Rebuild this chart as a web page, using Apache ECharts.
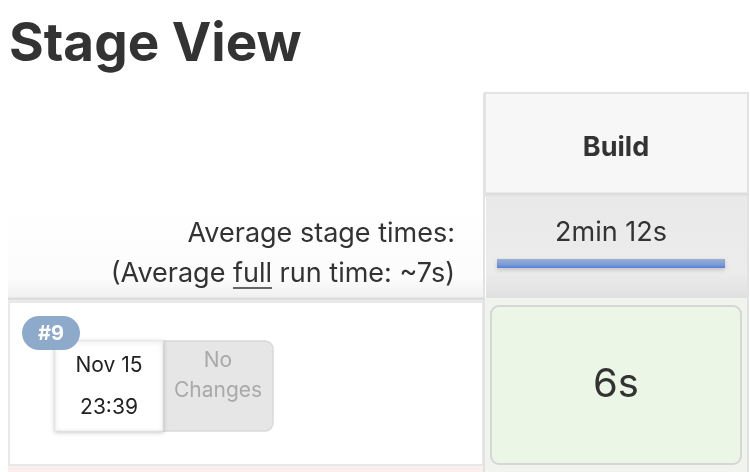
<!DOCTYPE html>
<html>
<head>
<meta charset="utf-8">
<title>Stage View</title>
<script src="https://cdn.jsdelivr.net/npm/echarts@6/dist/echarts.min.js"></script>
<style>
  html, body { margin: 0; padding: 0; background: #fff; }
  #chart { width: 750px; height: 472px; }
</style>
</head>
<body>
<div id="chart"></div>
<script>
// stage view data
const stages = ['Build']
const avgStageSec = [132]          // 2min 12s
const avgFullRun = '~7s'
const builds = ['#9']
const buildDates = ['Nov 15']
const buildTimes = ['23:39']
const buildChanges = [['No', 'Changes']]
const stageDurations = [[6]]       // seconds, one row per build

const FONT = 'Inter, "Noto Sans", "Liberation Sans", sans-serif'

function fmtDuration(s){
    const m = Math.floor(s / 60)
    const r = s % 60
    return m > 0 ? m + 'min ' + r + 's' : r + 's'
}

const cellData = []
builds.forEach((b, bi) => {
    stages.forEach((st, si) => {
        cellData.push([si, bi, stageDurations[bi][si]])
    })
})

const chart = echarts.init(document.getElementById('chart'))

const option = {
    animation: false,
    backgroundColor: '#ffffff',
    grid: [
        { left: 490, top: 305, width: 252, height: 160 },   // stage cells
        { left: 497, top: 259, width: 228, height: 9 }      // average bar
    ],
    xAxis: [
        {
            gridIndex: 0, type: 'category', data: stages, position: 'top',
            axisLine: { show: false }, axisTick: { show: false },
            axisLabel: { margin: 144, fontFamily: FONT, fontSize: 27, fontWeight: 'bold', color: '#333' }
        },
        {
            gridIndex: 1, type: 'value', min: 0, max: Math.max(...avgStageSec),
            show: false
        }
    ],
    yAxis: [
        { gridIndex: 0, type: 'category', data: builds, inverse: true, show: false },
        { gridIndex: 1, type: 'category', data: stages, show: false }
    ],
    series: [
        {
            type: 'custom',
            xAxisIndex: 0, yAxisIndex: 0,
            data: cellData,
            renderItem: (params, api) => {
                const c = api.coord([api.value(0), api.value(1)])
                const sz = api.size([1, 1])
                return {
                    type: 'group',
                    children: [
                        {
                            type: 'rect',
                            shape: { x: c[0] - sz[0] / 2 + 1, y: c[1] - sz[1] / 2 + 1, width: sz[0] - 2, height: sz[1] - 2, r: 8 },
                            style: { fill: '#ebf6e6', stroke: '#d4d7d4', lineWidth: 2 }
                        },
                        {
                            type: 'text',
                            style: {
                                text: fmtDuration(api.value(2)), x: c[0], y: c[1],
                                align: 'center', verticalAlign: 'middle',
                                font: '40px ' + FONT, fill: '#333'
                            }
                        }
                    ]
                }
            }
        },
        {
            type: 'bar',
            xAxisIndex: 1, yAxisIndex: 1,
            data: avgStageSec,
            barWidth: '100%',
            itemStyle: {
                color: new echarts.graphic.LinearGradient(0, 0, 0, 1, [
                    { offset: 0, color: '#98b0d2' },
                    { offset: 0.6, color: '#7d9bd6' },
                    { offset: 1, color: '#5580d8' }
                ]),
                shadowColor: 'rgba(0,0,0,0.18)', shadowBlur: 4, shadowOffsetY: 2
            },
            label: {
                show: true, position: 'top', distance: 13,
                formatter: p => fmtDuration(p.value),
                fontFamily: FONT, fontSize: 27, color: '#333'
            }
        }
    ],
    graphic: [
        // title
        { type: 'text', left: 9, top: 19, z: 10,
          style: { text: 'Stage View', font: 'bold 53px ' + FONT, fill: '#333' } },

        // right column chrome
        { type: 'rect', z: -10, shape: { x: 485, y: 93, width: 263, height: 103 },
          style: { fill: '#f7f7f7', stroke: '#e4e4e4', lineWidth: 2 } },
        { type: 'rect', z: -10, shape: { x: 486, y: 194, width: 261, height: 104 },
          style: { fill: new echarts.graphic.LinearGradient(0, 0, 0, 1, [
              { offset: 0, color: '#e9e9e9' }, { offset: 0.75, color: '#ececec' }, { offset: 1, color: '#e0e0e0' }
          ]) } },
        { type: 'line', z: -9, shape: { x1: 486, y1: 194, x2: 747, y2: 194 },
          style: { stroke: '#dddddd', lineWidth: 3 } },
        { type: 'rect', z: -10, shape: { x: 484, y: 298, width: 264, height: 174 },
          style: { fill: '#f1f3ef' } },
        { type: 'line', z: -9, shape: { x1: 484, y1: 93, x2: 484, y2: 472 },
          style: { stroke: '#e2e2e2', lineWidth: 2 } },
        { type: 'line', z: -9, shape: { x1: 748, y1: 93, x2: 748, y2: 472 },
          style: { stroke: '#e2e2e2', lineWidth: 2 } },

        // left average row
        { type: 'rect', z: -10, shape: { x: 8, y: 200, width: 476, height: 98 },
          style: { fill: new echarts.graphic.LinearGradient(0, 0, 0, 1, [
              { offset: 0, color: '#ffffff' }, { offset: 0.8, color: '#fcfcfc' }, { offset: 1, color: '#f0f0f0' }
          ]) } },
        { type: 'line', z: -9, shape: { x1: 8, y1: 299, x2: 484, y2: 299 },
          style: { stroke: '#dcdcdc', lineWidth: 3 } },
        { type: 'text', z: 10,
          style: { text: 'Average stage times:', x: 455, y: 234, align: 'right', verticalAlign: 'middle',
                   font: '27px ' + FONT, fill: '#333' } },
        { type: 'text', z: 10,
          style: { text: '(Average full run time: ' + avgFullRun + ')', x: 455, y: 274, align: 'right', verticalAlign: 'middle',
                   font: '27px ' + FONT, fill: '#333' } },

        // build row
        { type: 'rect', z: -10, shape: { x: 9, y: 302, width: 474, height: 163 },
          style: { fill: '#ffffff', stroke: '#e8e8e8', lineWidth: 2 } },
        { type: 'rect', z: -10, shape: { x: 8, y: 466, width: 476, height: 6 },
          style: { fill: '#fbeeee' } },

        // changes box
        { type: 'rect', z: 5, shape: { x: 163, y: 341, width: 110, height: 90, r: [0, 8, 8, 0] },
          style: { fill: '#e6e6e6', stroke: '#d9d9d9', lineWidth: 1.5 } },
        { type: 'text', z: 6,
          style: { text: buildChanges[0][0], x: 218, y: 361, align: 'center', verticalAlign: 'middle',
                   font: '21px ' + FONT, fill: '#a9a9a9' } },
        { type: 'text', z: 6,
          style: { text: buildChanges[0][1], x: 218, y: 391, align: 'center', verticalAlign: 'middle',
                   font: '21px ' + FONT, fill: '#a9a9a9' } },

        // date box
        { type: 'rect', z: 7, shape: { x: 55, y: 341, width: 108, height: 90 },
          style: { fill: '#ffffff', stroke: '#e3e6ea', lineWidth: 1,
                   shadowColor: 'rgba(0,0,0,0.2)', shadowBlur: 4, shadowOffsetY: 1 } },
        { type: 'text', z: 8,
          style: { text: buildDates[0], x: 109, y: 366, align: 'center', verticalAlign: 'middle',
                   font: '21px ' + FONT, fill: '#222' } },
        { type: 'text', z: 8,
          style: { text: buildTimes[0], x: 109, y: 408, align: 'center', verticalAlign: 'middle',
                   font: '21px ' + FONT, fill: '#222' } },

        // build badge
        { type: 'rect', z: 9, shape: { x: 22, y: 316, width: 58, height: 34, r: 17 },
          style: { fill: '#8eaacb' } },
        { type: 'text', z: 10,
          style: { text: builds[0], x: 51, y: 334, align: 'center', verticalAlign: 'middle',
                   font: 'bold 20px ' + FONT, fill: '#ffffff' } }
    ]
}

chart.setOption(option)

// underline under "full"
const zr = chart.getZr()
const measure = t => new echarts.graphic.Text({ style: { text: t, font: '27px ' + FONT } }).getBoundingRect().width
const whole = measure('(Average full run time: ' + avgFullRun + ')')
const x0 = 455 - whole + measure('(Average ')
zr.add(new echarts.graphic.Line({
    shape: { x1: x0, y1: 288, x2: x0 + measure('full'), y2: 288 },
    style: { stroke: '#333', lineWidth: 1.5 }, z: 100
}))
</script>
</body>
</html>
